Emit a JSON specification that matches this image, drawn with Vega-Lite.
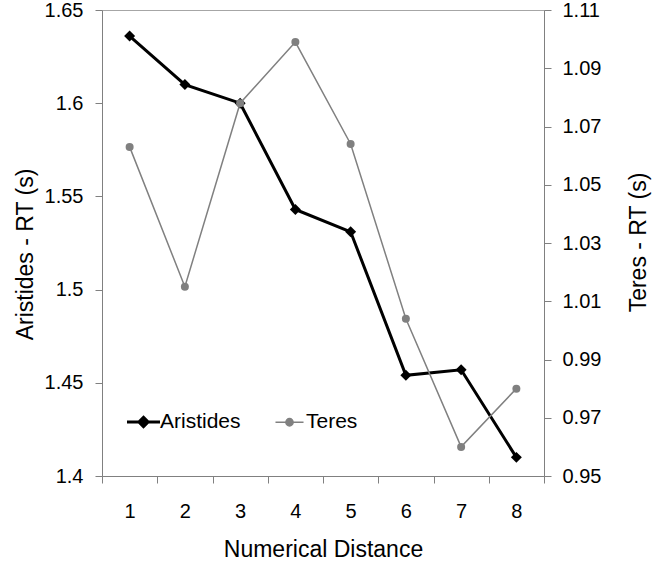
{
  "$schema": "https://vega.github.io/schema/vega-lite/v6.json",
  "width": 442,
  "height": 466,
  "autosize": "none",
  "padding": {"left": 102, "top": 10, "right": 110, "bottom": 87},
  "background": "white",
  "config": {
    "font": "Liberation Sans",
    "view": {"stroke": "#a6a6a6", "strokeWidth": 1},
    "axis": {
      "grid": false,
      "domainColor": "#808080",
      "tickColor": "#808080",
      "tickSize": 7,
      "labelColor": "#000000",
      "labelFont": "Liberation Sans",
      "labelFontSize": 20,
      "titleColor": "#000000",
      "titleFont": "Liberation Sans",
      "titleFontSize": 23,
      "titleFontWeight": "normal"
    }
  },
  "data": {
    "values": [
      {"distance": 1, "series": "Aristides", "rt": 1.636},
      {"distance": 2, "series": "Aristides", "rt": 1.610},
      {"distance": 3, "series": "Aristides", "rt": 1.600},
      {"distance": 4, "series": "Aristides", "rt": 1.543},
      {"distance": 5, "series": "Aristides", "rt": 1.531},
      {"distance": 6, "series": "Aristides", "rt": 1.454},
      {"distance": 7, "series": "Aristides", "rt": 1.457},
      {"distance": 8, "series": "Aristides", "rt": 1.410},
      {"distance": 1, "series": "Teres", "rt": 1.063},
      {"distance": 2, "series": "Teres", "rt": 1.015},
      {"distance": 3, "series": "Teres", "rt": 1.078},
      {"distance": 4, "series": "Teres", "rt": 1.099},
      {"distance": 5, "series": "Teres", "rt": 1.064},
      {"distance": 6, "series": "Teres", "rt": 1.004},
      {"distance": 7, "series": "Teres", "rt": 0.960},
      {"distance": 8, "series": "Teres", "rt": 0.980}
    ]
  },
  "encoding": {
    "x": {
      "field": "distance",
      "type": "ordinal",
      "scale": {"type": "band", "paddingInner": 0, "paddingOuter": 0},
      "axis": {
        "title": "Numerical Distance",
        "labelAngle": 0,
        "tickBand": "extent",
        "labelPadding": 18,
        "titleY": 80,
        "titleBaseline": "alphabetic"
      }
    },
    "color": {
      "field": "series",
      "type": "nominal",
      "scale": {"domain": ["Aristides", "Teres"], "range": ["#000000", "#808080"]},
      "legend": {
        "orient": "none",
        "legendX": 31,
        "legendY": 401,
        "direction": "horizontal",
        "title": null,
        "padding": 0,
        "symbolSize": 1089,
        "labelFont": "Liberation Sans",
        "labelFontSize": 21,
        "labelColor": "#000000",
        "labelOffset": 6,
        "columnPadding": 31,
        "encode": {
          "symbols": {
            "update": {
              "shape": {"signal": "datum.value === 'Aristides' ? 'M-1,0H1M0,-0.28L0.28,0L0,0.28L-0.28,0Z' : 'M-0.85,0H0.85M0.22,0A0.22,0.22,0,1,1,-0.22,0A0.22,0.22,0,1,1,0.22,0Z'"},
              "fill": {"signal": "datum.value === 'Aristides' ? '#000000' : '#808080'"},
              "stroke": {"signal": "datum.value === 'Aristides' ? '#000000' : '#808080'"},
              "strokeWidth": {"signal": "datum.value === 'Aristides' ? 3 : 1.5"}
            }
          }
        }
      }
    }
  },
  "layer": [
    {
      "transform": [{"filter": "datum.series === 'Aristides'"}],
      "mark": {
        "type": "line",
        "strokeWidth": 3,
        "point": {"shape": "diamond", "size": 120, "filled": true}
      },
      "encoding": {
        "y": {
          "field": "rt",
          "type": "quantitative",
          "scale": {"domain": [1.4, 1.65], "nice": false, "zero": false},
          "axis": {
            "orient": "left",
            "title": "Aristides - RT (s)",
            "values": [1.4, 1.45, 1.5, 1.55, 1.6, 1.65],
            "format": "~g",
            "labelPadding": 12,
            "titleAngle": -90,
            "titleAlign": "center",
            "titleBaseline": "alphabetic",
            "titleX": -70,
            "titleY": 244
          }
        }
      }
    },
    {
      "transform": [{"filter": "datum.series === 'Teres'"}],
      "mark": {
        "type": "line",
        "strokeWidth": 1.5,
        "point": {"shape": "circle", "size": 64, "filled": true}
      },
      "encoding": {
        "y": {
          "field": "rt",
          "type": "quantitative",
          "scale": {"domain": [0.95, 1.11], "nice": false, "zero": false},
          "axis": {
            "orient": "right",
            "title": "Teres - RT (s)",
            "values": [0.95, 0.97, 0.99, 1.01, 1.03, 1.05, 1.07, 1.09, 1.11],
            "format": ".2f",
            "labelPadding": 11,
            "titleAngle": -90,
            "titleAlign": "center",
            "titleBaseline": "alphabetic",
            "titleX": 101,
            "titleY": 232,
            "encode": {"ticks": {"update": {"x": {"value": -7}}}}
          }
        }
      }
    }
  ],
  "resolve": {"scale": {"y": "independent"}}
}
